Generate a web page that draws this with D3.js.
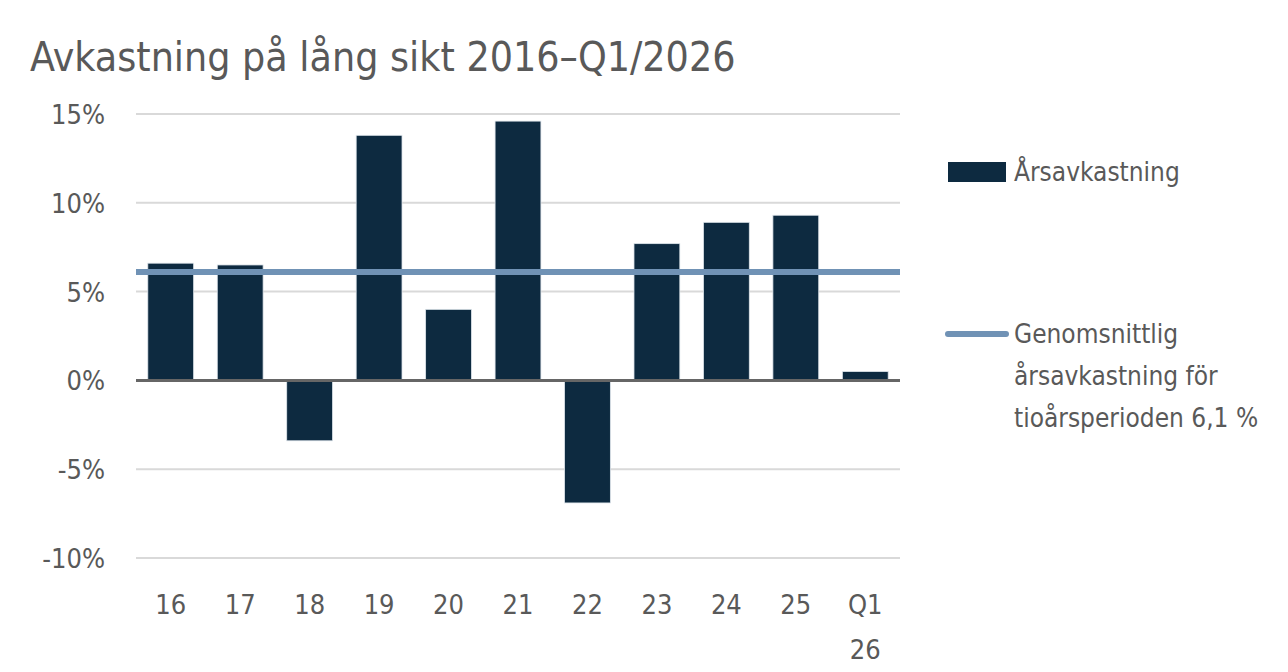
<!DOCTYPE html>
<html>
<head>
<meta charset="utf-8">
<script src="https://cdn.jsdelivr.net/npm/d3@7"></script>
<style>
  body { margin: 0; background: #fff; }
  text { font-family: "DejaVu Sans Condensed", "Liberation Sans Narrow", sans-serif; fill: #595959; }
</style>
</head>
<body>
<div id="chart"></div>
<script>
var years = ["16", "17", "18", "19", "20", "21", "22", "23", "24", "25", "Q1\n26"];
var returns = [6.6, 6.5, -3.4, 13.8, 4.0, 14.6, -6.9, 7.7, 8.9, 9.3, 0.5];
var average = 6.1;
var yTicks = [-10, -5, 0, 5, 10, 15];
var title = "Avkastning på lång sikt 2016–Q1/2026";
var legendBar = "Årsavkastning";
var legendLine = ["Genomsnittlig", "årsavkastning för", "tioårsperioden 6,1 %"];

var W = 1288, H = 672;
var plotLeft = 136, plotRight = 900, plotTop = 114, plotBottom = 558;

var svg = d3.select("#chart").append("svg").attr("width", W).attr("height", H);

var x = d3.scaleBand().domain(years).range([plotLeft, plotRight]).paddingInner(0.34).paddingOuter(0.17);
var y = d3.scaleLinear().domain([-10, 15]).range([plotBottom, plotTop]);

svg.append("text").attr("x", 30).attr("y", 71).style("font-size", "40.7px").text(title);

// grid
svg.append("g").selectAll("line").data(yTicks.filter(function(d) { return d !== 0; })).enter().append("line")
  .attr("x1", plotLeft).attr("x2", plotRight)
  .attr("y1", function(d) { return y(d); }).attr("y2", function(d) { return y(d); })
  .attr("stroke", "#d9d9d9").attr("stroke-width", 2);

svg.append("g").selectAll("text").data(yTicks).enter().append("text")
  .attr("x", 105).attr("y", function(d) { return y(d) + 10; })
  .attr("text-anchor", "end").style("font-size", "27px")
  .text(function(d) { return d + "%"; });

// bars
svg.append("g").selectAll("rect").data(returns).enter().append("rect")
  .attr("x", function(d, i) { return x(years[i]); })
  .attr("width", x.bandwidth())
  .attr("y", function(d) { return y(Math.max(0, d)); })
  .attr("height", function(d) { return Math.abs(y(d) - y(0)); })
  .attr("fill", "#0d2a40").attr("stroke", "#dfe6ec").attr("stroke-width", 0.8);

// zero line
svg.append("line").attr("x1", plotLeft).attr("x2", plotRight).attr("y1", y(0)).attr("y2", y(0))
  .attr("stroke", "#666").attr("stroke-width", 3);

// average line
svg.append("line").attr("x1", plotLeft).attr("x2", plotRight).attr("y1", y(average)).attr("y2", y(average))
  .attr("stroke", "#7092b5").attr("stroke-width", 6);

// x labels
var xl = svg.append("g").selectAll("text").data(years).enter().append("text")
  .attr("text-anchor", "middle").style("font-size", "27px")
  .attr("transform", function(d) { return "translate(" + (x(d) + x.bandwidth() / 2) + ",614)"; });
xl.selectAll("tspan").data(function(d) { return d.split("\n"); }).enter().append("tspan")
  .attr("x", 0).attr("dy", function(d, i) { return i ? 45 : 0; }).text(function(d) { return d; });

// legend
svg.append("rect").attr("x", 948).attr("y", 162).attr("width", 58).attr("height", 20).attr("fill", "#0d2a40");
svg.append("text").attr("x", 1014).attr("y", 181).style("font-size", "26px").text(legendBar);
svg.append("line").attr("x1", 948).attr("x2", 1006).attr("y1", 334).attr("y2", 334)
  .attr("stroke", "#7092b5").attr("stroke-width", 6).attr("stroke-linecap", "round");
svg.append("g").selectAll("text").data(legendLine).enter().append("text")
  .attr("x", 1014).attr("y", function(d, i) { return 343 + i * 42; })
  .style("font-size", "26px").text(function(d) { return d; });
</script>
</body>
</html>
